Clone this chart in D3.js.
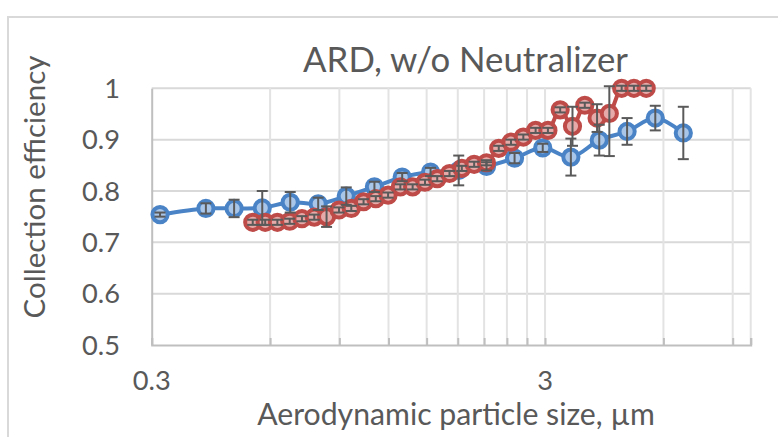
<!DOCTYPE html>
<html><head><meta charset="utf-8">
<script src="https://cdn.jsdelivr.net/npm/d3@7"></script>
<style>html,body{margin:0;padding:0;background:#fff;overflow:hidden}svg{display:block}</style>
</head><body>
<svg id="c" width="778" height="437"></svg>
<script>
// ---- data ----
const titleText = "ARD, w/o Neutralizer";
const xTitle = "Aerodynamic particle size, µm";
const yTitle = "Collection efficiency";
const xTickValues = [0.3, 3];
const xTickLabels = ["0.3", "3"];
const xGridValues = [0.6, 0.9, 1.2, 1.5, 1.8, 2.1, 2.4, 2.7, 3, 6, 9, 10];
const yTickValues = [0.5, 0.6, 0.7, 0.8, 0.9, 1];
const yTickLabels = ["0.5", "0.6", "0.7", "0.8", "0.9", "1"];

const blueX = [0.315, 0.412, 0.486, 0.573, 0.675, 0.795, 0.937, 1.105, 1.30, 1.535, 1.81, 2.13, 2.51, 2.96, 3.49, 4.12, 4.85, 5.72, 6.74];
const blueY = [0.754, 0.766, 0.766, 0.767, 0.778, 0.775, 0.790, 0.808, 0.827, 0.837, 0.840, 0.848, 0.864, 0.884, 0.866, 0.899, 0.916, 0.942, 0.913];
const blueErr = [0.004, 0.010, 0.017, 0.033, 0.020, 0.012, 0.017, 0.010, 0.008, 0.008, 0.029, 0.008, 0.010, 0.008, 0.036, 0.030, 0.026, 0.024, 0.051];

const redX = [0.542, 0.583, 0.626, 0.673, 0.723, 0.777, 0.835, 0.898, 0.965, 1.037, 1.114, 1.197, 1.286, 1.382, 1.486, 1.596, 1.715, 1.843, 1.981, 2.129, 2.288, 2.458, 2.642, 2.839, 3.051, 3.278, 3.523, 3.786, 4.068, 4.371, 4.698, 5.048, 5.425];
const redY = [0.739, 0.739, 0.739, 0.741, 0.746, 0.749, 0.750, 0.763, 0.766, 0.779, 0.785, 0.792, 0.808, 0.808, 0.817, 0.824, 0.834, 0.844, 0.852, 0.855, 0.883, 0.895, 0.905, 0.918, 0.918, 0.958, 0.926, 0.967, 0.942, 0.951, 1.000, 1.000, 1.000];
const redErrLow  = [0.005, 0.005, 0.005, 0.005, 0.005, 0.005, 0.020, 0.005, 0.005, 0.005, 0.005, 0.005, 0.005, 0.005, 0.005, 0.005, 0.005, 0.005, 0.005, 0.005, 0.005, 0.005, 0.005, 0.005, 0.005, 0.005, 0.038, 0.005, 0.027, 0.083, 0.005, 0.005, 0.005];
const redErrHigh = [0.005, 0.005, 0.005, 0.005, 0.005, 0.005, 0.020, 0.005, 0.005, 0.005, 0.005, 0.005, 0.005, 0.005, 0.005, 0.005, 0.005, 0.005, 0.005, 0.005, 0.005, 0.005, 0.005, 0.005, 0.005, 0.005, 0.038, 0.005, 0.027, 0.053, 0.005, 0.005, 0.005];

// ---- layout ----
const FONT = "Lato, 'Open Sans', sans-serif";
const TEXT = "#595959";
const L = 151.7, R = 750.7, T = 88.3, B = 345;
const blue = "#4a84c6", blueFill = "#a9c5e8";
const red = "#be4b48", redFill = "#e6aaa8";

const svg = d3.select("#c");
const x = d3.scaleLog().domain([0.3, 10]).range([L, R]);
const y = d3.scaleLinear().domain([0.5, 1]).range([B, T]);

// chart border
svg.append("rect").attr("x", 8).attr("y", 17).attr("width", 800).attr("height", 460)
  .attr("fill", "none").attr("stroke", "#d9d9d9").attr("stroke-width", 2);

function fit(sel, target, start) {
  sel.attr("font-size", start);
  const w = sel.node().getComputedTextLength();
  sel.attr("font-size", start * target / w);
  return start * target / w;
}

// gridlines
const g = svg.append("g");
g.selectAll(".hg").data(yTickValues.slice(1)).join("line")
  .attr("x1", L).attr("x2", R).attr("y1", d => y(d)).attr("y2", d => y(d))
  .attr("stroke", "#d9d9d9").attr("stroke-width", 2);
g.selectAll(".vg").data(xGridValues).join("line")
  .attr("x1", d => x(d)).attr("x2", d => x(d)).attr("y1", T).attr("y2", B)
  .attr("stroke", "#e3e3e3").attr("stroke-width", 2);

// axes via d3 axis generators
const xAxis = d3.axisBottom(x).tickValues([0.3].concat(xGridValues)).tickSize(-7).tickFormat("");
const xa = svg.append("g").attr("transform", `translate(0,${B})`).call(xAxis);
xa.select(".domain").attr("stroke", "#bfbfbf").attr("stroke-width", 2);
xa.selectAll(".tick line").attr("stroke", "#bfbfbf").attr("stroke-width", 2);
const ya = svg.append("g").attr("transform", `translate(${L},0)`).call(d3.axisLeft(y).tickValues(yTickValues).tickSize(0).tickFormat(""));
ya.select(".domain").attr("stroke", "#bfbfbf").attr("stroke-width", 2);

// tick labels
const probe = svg.append("text").attr("font-family", FONT).text("0.9");
const tickSize = fit(probe, 38, 27);
probe.remove();
svg.append("g").selectAll("text").data(yTickValues).join("text")
  .attr("x", 120).attr("y", d => y(d)).attr("dy", "0.35em")
  .attr("text-anchor", "end").attr("font-family", FONT).attr("font-size", tickSize)
  .attr("fill", TEXT).text((d, i) => yTickLabels[i]);
svg.append("g").selectAll("text").data(xTickValues).join("text")
  .attr("x", d => x(d)).attr("y", 390)
  .attr("text-anchor", "middle").attr("font-family", FONT).attr("font-size", tickSize)
  .attr("fill", TEXT).text((d, i) => xTickLabels[i]);

// titles
const tt = svg.append("text").attr("x", 465.5).attr("y", 72).attr("text-anchor", "middle")
  .attr("font-family", FONT).attr("fill", TEXT).text(titleText);
fit(tt, 325, 34);
const xt = svg.append("text").attr("x", 456).attr("y", 425).attr("text-anchor", "middle")
  .attr("font-family", FONT).attr("fill", TEXT).text(xTitle);
fit(xt, 398, 28);
const yt = svg.append("text").attr("transform", "translate(45,187) rotate(-90)").attr("text-anchor", "middle")
  .attr("font-family", FONT).attr("fill", TEXT).text(yTitle);
fit(yt, 263, 28);

// series
const blueData = blueX.map((v, i) => ({x: v, y: blueY[i], lo: blueErr[i], hi: blueErr[i]}));
const redData = redX.map((v, i) => ({x: v, y: redY[i], lo: redErrLow[i], hi: redErrHigh[i]}));
const line = d3.line().x(d => x(d.x)).y(d => y(d.y)).curve(d3.curveCatmullRom.alpha(0.5));

function drawSeries(data, col, fill) {
  svg.append("path").datum(data).attr("d", line).attr("fill", "none")
    .attr("stroke", col).attr("stroke-width", 4).attr("stroke-linejoin", "round");
  svg.append("g").selectAll("circle").data(data).join("circle")
    .attr("cx", d => x(d.x)).attr("cy", d => y(d.y)).attr("r", 7.6)
    .attr("fill", fill).attr("stroke", col).attr("stroke-width", 4);
}
drawSeries(blueData, blue, blueFill);
drawSeries(redData, red, redFill);

function drawErr(data) {
  const eg = svg.append("g").attr("stroke", "#5a5a5a").attr("stroke-width", 2).attr("fill", "none");
  data.forEach(d => {
    const cx = x(d.x), y1 = y(d.y + d.hi), y2 = y(d.y - d.lo);
    eg.append("line").attr("x1", cx).attr("x2", cx).attr("y1", y1).attr("y2", y2);
    eg.append("line").attr("x1", cx - 5.5).attr("x2", cx + 5.5).attr("y1", y1).attr("y2", y1);
    eg.append("line").attr("x1", cx - 5.5).attr("x2", cx + 5.5).attr("y1", y2).attr("y2", y2);
  });
}
drawErr(blueData);
drawErr(redData);
</script>
</body></html>
